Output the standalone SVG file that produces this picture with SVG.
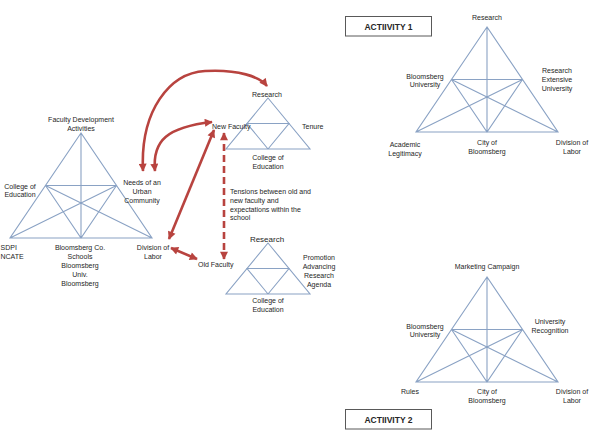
<svg xmlns="http://www.w3.org/2000/svg" width="589" height="437" viewBox="0 0 589 437">
<style>
.ln{fill:none;stroke:#8aa2c4;stroke-width:1.1}
.t{font-family:"Liberation Sans",Arial,sans-serif;font-size:7px;fill:#262626}
.m{text-anchor:middle}
.ar{fill:none;stroke:#b8433f;stroke-width:2.6}
.box{fill:#fff;stroke:#595959;stroke-width:1}
.bt{font-family:"Liberation Sans",Arial,sans-serif;font-size:8.5px;font-weight:bold;fill:#262626;text-anchor:middle}
</style>
<defs>
<g id="bigTri">
<path class="ln" d="M0,0 L-71,105 L71,105 Z M0,0 L0,105 M-35.5,52.5 L35.5,52.5 M-35.5,52.5 L0,105 L35.5,52.5 M-35.5,52.5 L71,105 M35.5,52.5 L-71,105"/>
</g>
<g id="smallTri">
<path class="ln" d="M0,0 L-42,51 L42,51 Z M-21,25.5 L21,25.5 L0,51 Z"/>
</g>
<marker id="ah" viewBox="0 0 10 10" refX="9" refY="5" markerWidth="9" markerHeight="8" markerUnits="userSpaceOnUse" orient="auto-start-reverse">
<path d="M0,0 L10,5 L0,10 Z" fill="#b8433f"/>
</marker>
</defs>

<g id="faculty-dev-triangle">
<use href="#bigTri" x="81" y="133"/>
<text class="t m" x="81" y="121.5">Faculty Development</text>
<text class="t m" x="81" y="130.5">Activities</text>
<text class="t m" x="20" y="188.5">College of</text>
<text class="t m" x="20" y="197">Education</text>
<text class="t m" x="142" y="184.5">Needs of an</text>
<text class="t m" x="142" y="193.5">Urban</text>
<text class="t m" x="142" y="202.5">Community</text>
<text class="t" x="0.5" y="249.5">SDPI</text>
<text class="t" x="0.5" y="258.5">NCATE</text>
<text class="t m" x="80" y="249.5">Bloomsberg Co.</text>
<text class="t m" x="80" y="258.5">Schools</text>
<text class="t m" x="80" y="267.5">Bloomsberg</text>
<text class="t m" x="80" y="276.5">Univ.</text>
<text class="t m" x="80" y="285.5">Bloomsberg</text>
<text class="t m" x="153" y="249.5">Division of</text>
<text class="t m" x="153" y="258.5">Labor</text>
</g>

<g id="new-faculty-triangle">
<use href="#smallTri" x="268" y="98"/>
<text class="t m" x="267" y="96.5">Research</text>
<text class="t" x="212" y="129">New Faculty</text>
<text class="t" x="302" y="129">Tenure</text>
<text class="t m" x="268" y="160">College of</text>
<text class="t m" x="268" y="169">Education</text>
</g>

<g id="tensions-label">
<text class="t" x="230" y="193.5">Tensions between old and</text>
<text class="t" x="230" y="202.5">new faculty and</text>
<text class="t" x="230" y="211.5">expectations within the</text>
<text class="t" x="230" y="220">school</text>
</g>

<g id="old-faculty-triangle">
<use href="#smallTri" x="268" y="243"/>
<text class="t m" x="267" y="242" style="font-size:8px">Research</text>
<text class="t" x="198" y="266.5">Old Faculty</text>
<text class="t m" x="319" y="259.5">Promotion</text>
<text class="t m" x="319" y="268.5">Advancing</text>
<text class="t m" x="319" y="277.5">Research</text>
<text class="t m" x="319" y="286.5">Agenda</text>
<text class="t m" x="268" y="303">College of</text>
<text class="t m" x="268" y="312">Education</text>
</g>

<g id="activity1">
<rect class="box" x="345.5" y="16.5" width="86" height="19.5"/>
<text class="bt" x="388.5" y="29.5">ACTIIVITY 1</text>
<use href="#bigTri" x="487" y="27"/>
<text class="t m" x="487" y="19.5">Research</text>
<text class="t m" x="425" y="78.5">Bloomsberg</text>
<text class="t m" x="425" y="87">University</text>
<text class="t m" x="557" y="73">Research</text>
<text class="t m" x="557" y="82">Extensive</text>
<text class="t m" x="557" y="90.5">University</text>
<text class="t m" x="405" y="147">Academic</text>
<text class="t m" x="405" y="156">Legitimacy</text>
<text class="t m" x="487" y="145">City of</text>
<text class="t m" x="487" y="154">Bloomsberg</text>
<text class="t m" x="572" y="145">Division of</text>
<text class="t m" x="572" y="154">Labor</text>
</g>

<g id="activity2">
<rect class="box" x="345.5" y="409.5" width="86" height="19.5"/>
<text class="bt" x="388.5" y="422.5">ACTIIVITY 2</text>
<use href="#bigTri" x="487" y="277"/>
<text class="t m" x="487" y="269">Marketing Campaign</text>
<text class="t m" x="425" y="328.5">Bloomsberg</text>
<text class="t m" x="425" y="337">University</text>
<text class="t m" x="550" y="324">University</text>
<text class="t m" x="550" y="333">Recognition</text>
<text class="t m" x="410" y="394">Rules</text>
<text class="t m" x="487" y="394">City of</text>
<text class="t m" x="487" y="403">Bloomsberg</text>
<text class="t m" x="572" y="394">Division of</text>
<text class="t m" x="572" y="403">Labor</text>
</g>

<g id="connectors">
<path class="ar" d="M143,171 C140,110 170,73 205,71 C238,69 260,77 267,86" marker-start="url(#ah)" marker-end="url(#ah)"/>
<path class="ar" d="M155,171 C152,140 168,127 212,122" marker-start="url(#ah)" marker-end="url(#ah)"/>
<path class="ar" d="M214,130 L169,239" marker-start="url(#ah)" marker-end="url(#ah)"/>
<path class="ar" d="M171,248 L197,259" marker-start="url(#ah)" marker-end="url(#ah)"/>
<path class="ar" d="M224,133 L224,259" stroke-dasharray="7,4" marker-start="url(#ah)" marker-end="url(#ah)"/>
</g>
</svg>
